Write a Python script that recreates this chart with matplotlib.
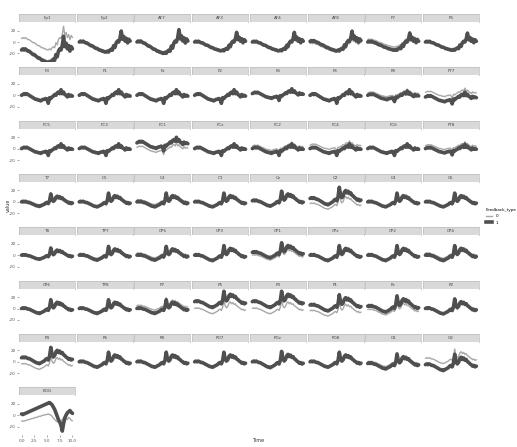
import numpy as np
import matplotlib
matplotlib.use('Agg')
import matplotlib.pyplot as plt
from matplotlib.lines import Line2D


time = np.arange(0, 10.01, 0.25)

# waveform shapes (frontal, central, posterior)
shape_frontal = [0, 1, 0, 1, 0, -1, -1, -2, -3, -4, -4, -5, -6, -7, -7, -8, -9, -9, -10, -10, -11,
                 -11, -10, -11, -9, -8, -9, -4, -6, -1, 1, 0, 4, 12, 3, 6, 1, 4, -1, 3, 1]
shape_central = [0, 1, 2, 1, 2, 1, 0, -1, -2, -3, -4, -5, -5, -6, -6, -7, -6, -5, -5, -4, -5,
                 -10, -3, -4, -2, -1, 1, 0, 3, 4, 2, 7, 2, 4, 1, 0, -2, 1, -1, 0, -1]
shape_posterior = [0, 1, 0, 1, 0, -1, -1, -2, -3, -4, -5, -6, -7, -7, -8, -7, -6, -5, -4, -2, -1,
                   -3, 2, 14, 4, 1, 3, 8, 10, 7, 9, 6, 7, 4, 3, 1, 0, -2, -1, -3, -2]
shapes = {'F': shape_frontal, 'C': shape_central, 'P': shape_posterior}

channels = ['Fp1', 'Fp2', 'AF7', 'AF3', 'AF4', 'AF8', 'F7', 'F5',
            'F3', 'F1', 'Fz', 'F2', 'F4', 'F6', 'F8', 'FT7',
            'FC5', 'FC3', 'FC1', 'FCz', 'FC2', 'FC4', 'FC6', 'FT8',
            'T7', 'C5', 'C3', 'C1', 'Cz', 'C2', 'C4', 'C6',
            'T8', 'TP7', 'CP5', 'CP3', 'CP1', 'CPz', 'CP2', 'CP4',
            'CP6', 'TP8', 'P7', 'P5', 'P3', 'P1', 'Pz', 'P2',
            'P4', 'P6', 'P8', 'PO7', 'POz', 'PO8', 'O1', 'O2']
shape_of = ['F'] * 8 + ['C'] * 16 + ['P'] * 32
amp = [2.0, 1.6, 1.8, 1.4, 1.4, 1.5, 1.3, 1.3,
       1.4, 1.4, 1.4, 1.4, 1.2, 1.4, 1.1, 1.2,
       1.2, 1.2, 1.4, 1.2, 1.2, 1.2, 1.2, 1.1,
       1.0, 1.1, 1.1, 1.1, 1.2, 1.4, 1.1, 1.1,
       0.9, 1.1, 1.1, 1.2, 1.2, 1.2, 1.2, 1.2,
       1.1, 1.1, 1.1, 1.3, 1.3, 1.3, 1.3, 1.2,
       1.3, 1.2, 1.2, 1.2, 1.3, 1.2, 1.2, 1.3]
offset_1 = [-14, 0, 0, 0, 0, 1, 0, 0,
            0, 0, 0, 0, 3, 0, 0, -3,
            0, 0, 10, 0, 0, 0, 0, 0,
            0, 0, 0, 0, 2, 6, 0, 0,
            0, 0, 0, 0, 5, 0, 0, 0,
            0, 0, 0, 12, 12, 6, 4, 0,
            7, 0, 0, 0, 0, 0, -3, -5]
offset_0 = [6, 0, 0, 0, 0, -3, 4, 0,
            0, 0, 0, 0, 3, -2, 4, 5,
            0, 0, 2, 0, 4, 6, 0, 5,
            2, 0, 3, 0, 0, -3, 0, 0,
            0, 2, 3, 0, 0, 0, 0, 3,
            0, 0, 5, 0, 0, -4, -2, 0,
            -4, 0, 0, 0, 0, 0, 0, 6]

eog_1 = [2, 1, 2, 3, 4, 5, 6, 7, 8, 9, 10, 11, 12, 13, 14, 15, 16, 17, 18, 19, 20,
         21, 22, 20, 18, 14, 10, 4, -2, -8, -12, -18, -28, -15, -5, 0, 4, 6, 8, 5, 3]
eog_0 = [-10, -11, -10, -10, -9, -8, -8, -7, -6, -6, -5, -4, -4, -3, -2, -2, -1, 0, 0, 1, 1,
         2, 1, 0, -2, -5, -8, -10, -12, -10, -14, -12, -8, -5, -3, -6, -8, -4, -6, -9, -10]

feedback_labels = ['0', '1']
ytick_vals = [-20, 0, 20]
xtick_vals = [0, 2.5, 5, 7.5, 10]
xtick_labels = ['0.0', '2.5', '5.0', '7.5', '10.0']

dark = '#4f4f4f'
light = '#a8a8a8'
W, H = 517, 447

fig = plt.figure(figsize=(W / 100, H / 100), dpi=100)
fig.patch.set_facecolor('white')


def make_panel(row, col, name, y1, y0):
    x_px = 19 + col * 57.7
    top = 14 + row * 53.3
    sax = fig.add_axes([x_px / W, 1 - (top + 8) / H, 56 / W, 8 / H])
    sax.set_facecolor('#d9d9d9')
    for s in sax.spines.values():
        s.set_color('#bdbdbd')
        s.set_linewidth(0.5)
    sax.set_xticks([])
    sax.set_yticks([])
    sax.text(0.5, 0.5, name, ha='center', va='center', fontsize=3, color='#444444',
             transform=sax.transAxes)
    ax = fig.add_axes([x_px / W, 1 - (top + 48) / H, 56 / W, 40 / H])
    ax.plot(time, y0, color=light, lw=1.0, solid_capstyle='round')
    ax.plot(time, y1, color=dark, lw=2.6, solid_capstyle='round')
    ax.set_xlim(-0.5, 10.5)
    ax.set_ylim(-35, 35)
    for s in ax.spines.values():
        s.set_visible(False)
    ax.set_xticks([])
    if col == 0:
        ax.set_yticks(ytick_vals)
        ax.set_yticklabels([str(v) for v in ytick_vals])
        ax.tick_params(axis='y', labelsize=3, length=1.5, width=0.4, pad=1,
                       colors='#666666', labelcolor='#555555')
    else:
        ax.set_yticks([])
    return ax


for i, name in enumerate(channels):
    base = np.array(shapes[shape_of[i]]) * amp[i]
    make_panel(i // 8, i % 8, name, base + offset_1[i], base * 0.9 + offset_0[i])

ax = make_panel(7, 0, 'EOG', np.array(eog_1), np.array(eog_0))
ax.set_xticks(xtick_vals)
ax.set_xticklabels(xtick_labels)
ax.tick_params(axis='x', labelsize=3, length=1.5, width=0.4, pad=1,
               colors='#666666', labelcolor='#555555')

fig.text(258 / W, 1 - 440 / H, 'Time', ha='center', va='center', fontsize=3.5, color='#333333')
fig.text(8 / W, 1 - 205 / H, 'value', ha='center', va='center', rotation=90,
         fontsize=3.5, color='#333333')

handles = [Line2D([], [], color=light, lw=1.0), Line2D([], [], color=dark, lw=2.6)]
leg = fig.legend(handles, feedback_labels, title='Feedback_type', loc='upper left',
                 bbox_to_anchor=(484 / W, 1 - 206 / H), frameon=False, fontsize=3,
                 title_fontsize=3, handlelength=1.5, labelspacing=0.6, borderaxespad=0)
leg._legend_box.align = 'left'

fig.savefig('out.png', dpi=100, facecolor='white')
